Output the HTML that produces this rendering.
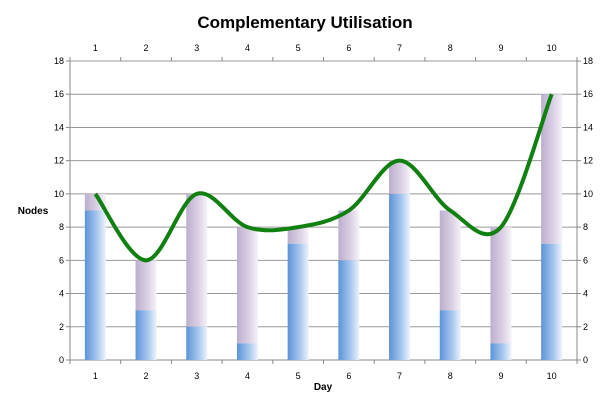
<!DOCTYPE html>
<html><head><meta charset="utf-8"><style>
body{margin:0;background:#fff;font-family:"Liberation Sans",sans-serif}
</style></head><body>
<svg width="611" height="413" xmlns="http://www.w3.org/2000/svg">
<defs>
<linearGradient id="gb" x1="0" x2="1" y1="0" y2="0"><stop offset="0" stop-color="#5d93d8"/><stop offset="0.6" stop-color="#a9c8ee"/><stop offset="1" stop-color="#eef4fc"/></linearGradient>
<linearGradient id="gp" x1="0" x2="1" y1="0" y2="0"><stop offset="0" stop-color="#bcaecd"/><stop offset="0.6" stop-color="#dcd2e6"/><stop offset="1" stop-color="#f5f2f8"/></linearGradient>
</defs>
<text x="305" y="28" text-anchor="middle" font-size="17" font-weight="bold">Complementary Utilisation</text>
<g id="grid"></g><g id="bars"></g><g id="axes"></g>
<path id="line" fill="none" stroke="#108010" stroke-width="4"/>
<text x="33" y="214" text-anchor="middle" font-size="10" font-weight="bold">Nodes</text>
<text x="323" y="390" text-anchor="middle" font-size="10" font-weight="bold">Day</text>
</svg>
<script>
const categories=["1","2","3","4","5","6","7","8","9","10"];
const blueValues=[9,3,2,1,7,6,10,3,1,7];
const totalValues=[10,6,10,8,8,9,12,9,8,16];
const yTicks=[0,2,4,6,8,10,12,14,16,18];
const NS="http://www.w3.org/2000/svg";
const L=70,R=577,T=61,B=360,yMax=18;
const step=(R-L)/categories.length;
const xs=i=>L+step*(i+0.5);
const ys=v=>B-(B-T)*v/yMax;
function mk(tag,attrs,parent,txt){const e=document.createElementNS(NS,tag);for(const k in attrs)e.setAttribute(k,attrs[k]);if(txt!==undefined)e.textContent=txt;document.getElementById(parent).appendChild(e);return e;}
yTicks.forEach(v=>{
 const g=mk('line',{x1:L,x2:R,y1:ys(v),y2:ys(v),stroke:v===0?'#888':'#999','stroke-width':1},'grid');
 
 const a=mk('text',{x:L-6,y:ys(v)+3,'text-anchor':'end','font-size':9},'axes',v);
 
 const b=mk('text',{x:R+6,y:ys(v)+3,'text-anchor':'start','font-size':9},'axes',v);
 
 mk('line',{x1:L-4,x2:L,y1:ys(v),y2:ys(v),stroke:'#888'},'axes');
 mk('line',{x1:R,x2:R+4,y1:ys(v),y2:ys(v),stroke:'#888'},'axes');
});
mk('line',{x1:L,x2:L,y1:T,y2:B,stroke:'#888'},'axes');
mk('line',{x1:R,x2:R,y1:T,y2:B,stroke:'#888'},'axes');
for(let i=0;i<=categories.length;i++){const x=L+step*i;mk('line',{x1:x,x2:x,y1:B,y2:B+4,stroke:'#888'},'axes');mk('line',{x1:x,x2:x,y1:T-4,y2:T,stroke:'#888'},'axes');}
categories.forEach((c,i)=>{
 const x=xs(i),w=21;
 const p=mk('rect',{x:x-w/2,y:ys(totalValues[i]),width:w,height:ys(blueValues[i])-ys(totalValues[i]),fill:'url(#gp)'},'bars');
 
 const b=mk('rect',{x:x-w/2,y:ys(blueValues[i]),width:w,height:B-ys(blueValues[i]),fill:'url(#gb)'},'bars');
 
 const t1=mk('text',{x:x,y:B+19,'text-anchor':'middle','font-size':9},'axes',c);
 
 const t2=mk('text',{x:x,y:T-10,'text-anchor':'middle','font-size':9},'axes',c);
 
});
const pts=totalValues.map((v,i)=>[xs(i),ys(v)]);
let d='M'+pts[0][0]+','+pts[0][1];
for(let i=0;i<pts.length-1;i++){
 const p0=pts[Math.max(i-1,0)],p1=pts[i],p2=pts[i+1],p3=pts[Math.min(i+2,pts.length-1)];
 const c1=[p1[0]+(p2[0]-p0[0])/6,p1[1]+(p2[1]-p0[1])/6];
 const c2=[p2[0]-(p3[0]-p1[0])/6,p2[1]-(p3[1]-p1[1])/6];
 d+=` C${c1[0]},${c1[1]} ${c2[0]},${c2[1]} ${p2[0]},${p2[1]}`;
}
document.getElementById('line').setAttribute('d',d);
</script>
</body></html>
